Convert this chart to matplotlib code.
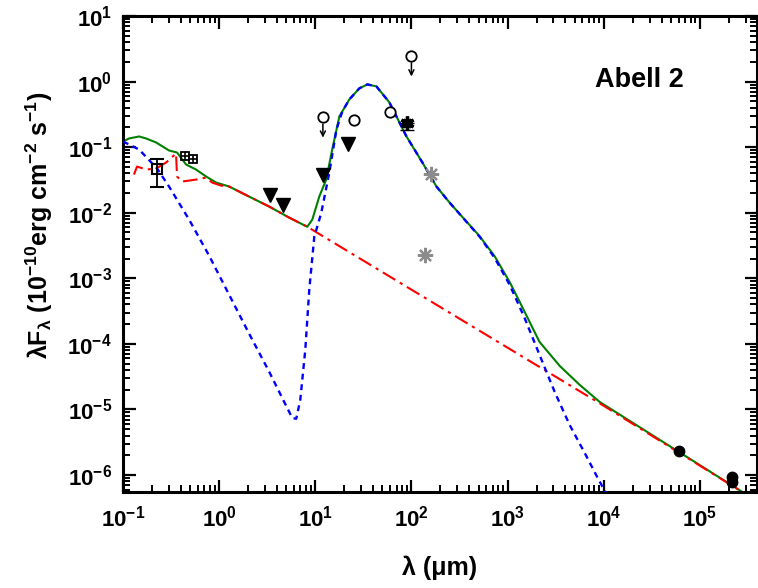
import numpy as np
import matplotlib
matplotlib.use('Agg')
from matplotlib import pyplot as plt
from matplotlib import ticker

plt.rcParams['font.family'] = ['Liberation Sans', 'DejaVu Sans']
plt.rcParams['font.weight'] = 'bold'
plt.rcParams['mathtext.fontset'] = 'custom'
plt.rcParams['mathtext.rm'] = 'Liberation Sans:bold'
plt.rcParams['mathtext.it'] = 'Liberation Sans:bold'
plt.rcParams['mathtext.bf'] = 'Liberation Sans:bold'
plt.rcParams['mathtext.default'] = 'bf'

# modelle (lambda in um, lambda F_lambda in 1e-10 erg cm-2 s-1)
blau_lam = [0.1, 0.147, 0.226, 0.301, 0.487, 0.787, 1.27, 2.05, 3.32, 4.75, 5.76, 6.34,
            6.98, 7.87, 8.66, 9.77, 11.55, 14.0, 16.6, 19.1, 22.6, 28.7, 34.8, 43.2,
            59.0, 88.7, 130, 182, 249, 357, 511, 732, 1050, 1500, 2150, 3090, 4420,
            6340, 8660, 11550]
blau_f = [0.122, 0.092, 0.0472, 0.0251, 0.00785, 0.00221, 5.61e-4, 1.43e-4, 3.74e-5,
          1.30e-5, 7.4e-6, 7.2e-6, 1.40e-5, 8.1e-5, 6.7e-4, 4.32e-3, 0.01, 0.041, 0.186,
          0.35, 0.534, 0.787, 0.905, 0.844, 0.481, 0.146, 0.0583, 0.0251, 0.0143,
          7.85e-3, 4.32e-3, 2.06e-3, 7.98e-4, 2.50e-4, 6.8e-5, 1.85e-5, 5.8e-6,
          2.17e-6, 9.0e-7, 4.15e-7]

rot_lam = [0.130, 0.140, 0.174, 0.221, 0.281, 0.356, 0.365, 0.412, 0.487, 0.575, 0.733,
           0.845, 1.05, 1.27, 2.05, 3.32, 5.36, 8.26, 9080, 3.93e5]
rot_f = [0.0382, 0.0506, 0.0455, 0.0472, 0.0583, 0.080, 0.0356, 0.0299, 0.0309, 0.0320,
         0.0344, 0.0288, 0.0259, 0.0251, 0.0176, 0.0124, 8.4e-3, 6.1e-3, 1.24e-5, 3.98e-7]

gruen_lam = [0.1, 0.1155, 0.147, 0.174, 0.221, 0.301, 0.365, 0.453, 0.575, 0.733, 0.931,
             1.27, 2.05, 3.32, 5.36, 8.26, 9.31, 11.0, 13.0, 15.0, 17.8, 22.6, 28.7,
             34.8, 43.2, 59.0, 88.7, 130, 182, 249, 357, 511, 732, 1050, 1334, 2150,
             3480, 5620, 9080, 3.93e5]
gruen_f = [0.122, 0.1355, 0.1455, 0.1355, 0.1178, 0.0889, 0.0828, 0.0543, 0.0455, 0.0356,
           0.0288, 0.0251, 0.0176, 0.0124, 8.4e-3, 6.1e-3, 7.85e-3, 0.0176, 0.0321, 0.092,
           0.294, 0.534, 0.787, 0.905, 0.844, 0.481, 0.146, 0.0583, 0.0251, 0.0143,
           7.9e-3, 4.4e-3, 2.18e-3, 8.8e-4, 4.39e-4, 1.07e-4, 4.62e-5, 2.37e-5, 1.3e-5,
           3.98e-7]

# messpunkte
uv_lam, uv_f, uv_lo, uv_hi = 0.227, 0.0467, 0.0248, 0.066
opt_lam = [0.44, 0.54]
opt_f = [0.073, 0.065]
wise_lam = [3.4, 4.6, 12, 22]
wise_f = [0.0185, 0.013, 0.037, 0.11]
iras_lam = [25, 60]
iras_f = [0.255, 0.347]
iras_ul_lam = [12, 100]
iras_ul_f = [0.286, 2.45]
akari_lam, akari_f, akari_lo = 90, 0.235, 0.05
grau_lam = [160, 140]
grau_f = [0.039, 0.00223]
radio_lam = [6.0e4, 2.17e5, 2.17e5]
radio_f = [2.3e-6, 9.4e-7, 7.9e-7]

fig = plt.figure(figsize=(7.58, 5.88), dpi=100)
ax = fig.add_axes([123 / 758, 1 - 492 / 588, 634 / 758, 476 / 588])

ax.plot(gruen_lam, gruen_f, color='#008000', lw=1.5, zorder=2)
ax.plot(rot_lam, rot_f, color='#ff0000', lw=1.5, ls=(0, (7, 2.5, 1.5, 2.5)), zorder=3)
ax.plot(blau_lam, blau_f, color='#0000ff', lw=1.7, ls=(0, (2.5, 2)), zorder=4)

ax.errorbar(uv_lam, uv_f, yerr=[[uv_f - uv_lo], [uv_hi - uv_f]], fmt='s', ms=6.5,
            mfc='none', mec='black', mew=1.5, ecolor='black', elinewidth=1.3, capsize=5,
            capthick=1.3, zorder=6)
ax.plot(opt_lam, opt_f, 's', ms=6, mfc='none', mec='black', mew=1.3, zorder=6)
ax.plot(opt_lam, opt_f, '+', ms=6, mec='black', mew=1.2, zorder=6)
ax.plot(wise_lam, wise_f, 'v', ms=9.5, color='black', zorder=6)
ax.plot(iras_lam, iras_f, 'o', ms=7.5, mfc='white', mec='black', mew=1.3, zorder=6)
ax.plot(iras_ul_lam, iras_ul_f, 'o', ms=7.5, mfc='white', mec='black', mew=1.3, zorder=6)
for xl, yl in zip(iras_ul_lam, iras_ul_f):
    ax.annotate('', xy=(xl, yl / 2.05), xytext=(xl, yl),
                arrowprops=dict(arrowstyle='->', color='black', lw=1.1,
                                shrinkA=5, shrinkB=0, mutation_scale=9), zorder=6)
ax.errorbar(akari_lam, akari_f, yerr=[[akari_lo], [0]], fmt='none', ecolor='black',
            elinewidth=1.0, capsize=5, capthick=1.0, zorder=6)
ax.plot(akari_lam, akari_f, marker=(6, 2, 0), ms=10, mec='black', mew=2.4, ls='none', zorder=7)
ax.plot(akari_lam, akari_f, marker=(4, 2, 45), ms=8, mec='black', mew=2.0, ls='none', zorder=7)
ax.plot(grau_lam, grau_f, marker=(8, 2, 0), ms=11, mec='#8c8c8c', mew=1.6, ls='none', zorder=6)
ax.plot(radio_lam, radio_f, 'o', ms=7.5, color='black', zorder=6)

ax.set_xscale('log')
ax.set_yscale('log')
ax.set_xlim(0.1, 3.93e5)
ax.set_ylim(5.5e-7, 10)

ax.xaxis.set_major_locator(ticker.LogLocator(base=10, numticks=30))
ax.yaxis.set_major_locator(ticker.LogLocator(base=10, numticks=30))
ax.xaxis.set_minor_locator(ticker.LogLocator(base=10, subs=np.arange(2, 10), numticks=100))
ax.yaxis.set_minor_locator(ticker.LogLocator(base=10, subs=np.arange(2, 10), numticks=100))
ax.xaxis.set_minor_formatter(ticker.NullFormatter())
ax.yaxis.set_minor_formatter(ticker.NullFormatter())

ax.tick_params(which='both', direction='in', top=True, right=True, labelsize=16)
ax.tick_params(which='major', length=9, width=1.6)
ax.tick_params(which='minor', length=5, width=1.4)
ax.tick_params(axis='x', which='major', pad=10)
ax.tick_params(axis='y', which='major', pad=8)
for sp in ax.spines.values():
    sp.set_linewidth(2.2)

ax.set_xlabel(r'λ (μm)', fontsize=18, fontweight='bold', labelpad=17)
ax.set_ylabel(r'λF$_{λ}$ (10$^{-10}$erg cm$^{-2}$ s$^{-1}$)', fontsize=18,
              fontweight='bold')
ax.yaxis.set_label_coords(-0.108, 0.56)

ax.text(0.745, 0.865, 'Abell 2', transform=ax.transAxes, fontsize=19.5,
        fontweight='bold', va='center', ha='left')

fig.savefig('out.png', dpi=100)
